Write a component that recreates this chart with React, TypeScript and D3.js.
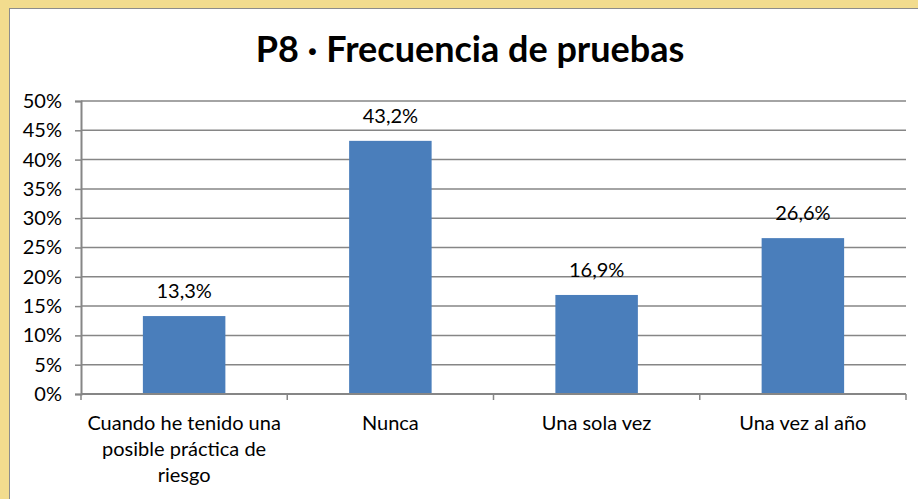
import { useEffect, useRef } from "react";
import { select, scaleBand, scaleLinear, axisLeft } from "d3";

const categories = [
  "Cuando he tenido una|posible práctica de|riesgo",
  "Nunca",
  "Una sola vez",
  "Una vez al año",
];
const values = [13.3, 43.2, 16.9, 26.6];
const valueLabels = ["13,3%", "43,2%", "16,9%", "26,6%"];
const yTicks = [0, 5, 10, 15, 20, 25, 30, 35, 40, 45, 50];
const title = "P8 · Frecuencia de pruebas";

const FONT = "Lato, 'Open Sans', sans-serif";

export default function App() {
  const ref = useRef<SVGSVGElement>(null);
  const width = 918;
  const height = 499;
  const margin = { top: 101, left: 81, right: 12, bottom: 105 };

  useEffect(() => {
    const svg = select(ref.current);
    svg.selectAll("*").remove();

    // frame
    svg.append("rect").attr("width", width).attr("height", height).attr("fill", "#f2dc8e");
    svg
      .append("rect")
      .attr("x", 9.5)
      .attr("y", 8.5)
      .attr("width", width)
      .attr("height", height)
      .attr("fill", "#fff")
      .attr("stroke", "#8c8c8c")
      .attr("stroke-width", 1);

    const x = scaleBand<number>()
      .domain(categories.map((_, i) => i))
      .range([margin.left, width - margin.right])
      .paddingInner(0.6)
      .paddingOuter(0.3);

    const y = scaleLinear()
      .domain([0, 50])
      .range([height - margin.bottom, margin.top]);

    // gridlines
    svg
      .append("g")
      .selectAll("line")
      .data(yTicks.filter((t) => t > 0))
      .join("line")
      .attr("x1", margin.left)
      .attr("x2", width - margin.right)
      .attr("y1", (d) => y(d))
      .attr("y2", (d) => y(d))
      .attr("stroke", "#868686")
      .attr("stroke-width", 1.5);

    // bars
    svg
      .append("g")
      .selectAll("rect")
      .data(values)
      .join("rect")
      .attr("x", (_, i) => x(i)!)
      .attr("y", (d) => y(d))
      .attr("width", x.bandwidth())
      .attr("height", (d) => y(0) - y(d))
      .attr("fill", "#4a7ebb");

    // value labels
    svg
      .append("g")
      .selectAll("text")
      .data(values)
      .join("text")
      .attr("x", (_, i) => x(i)! + x.bandwidth() / 2)
      .attr("y", (d) => y(d) - 18)
      .attr("text-anchor", "middle")
      .attr("font-family", FONT)
      .attr("font-size", 20)
      .attr("fill", "#000")
      .text((_, i) => valueLabels[i]);

    // y axis
    const yAxis = svg
      .append("g")
      .attr("transform", `translate(${margin.left},0)`)
      .call(
        axisLeft(y)
          .tickValues(yTicks)
          .tickSize(6)
          .tickPadding(13)
          .tickFormat((d) => `${d}%`)
      );
    yAxis.select(".domain").attr("stroke", "#868686").attr("stroke-width", 2);
    yAxis.selectAll(".tick line").attr("stroke", "#868686").attr("stroke-width", 1.5);
    yAxis
      .selectAll("text")
      .attr("font-family", FONT)
      .attr("font-size", 20)
      .attr("fill", "#000");

    // x axis
    const step = x.step();
    const bounds = categories.map((_, i) => margin.left + step * i).concat([width - margin.right]);
    const xg = svg.append("g");
    xg.append("line")
      .attr("x1", margin.left)
      .attr("x2", width - margin.right)
      .attr("y1", y(0))
      .attr("y2", y(0))
      .attr("stroke", "#868686")
      .attr("stroke-width", 2);
    xg.selectAll(".tk")
      .data(bounds)
      .join("line")
      .attr("class", "tk")
      .attr("x1", (d) => d)
      .attr("x2", (d) => d)
      .attr("y1", y(0))
      .attr("y2", y(0) + 6)
      .attr("stroke", "#868686")
      .attr("stroke-width", 1.5);

    const labels = xg
      .selectAll(".cat")
      .data(categories)
      .join("text")
      .attr("class", "cat")
      .attr("text-anchor", "middle")
      .attr("font-family", FONT)
      .attr("font-size", 20)
      .attr("fill", "#000");
    labels.each(function (d, i) {
      const t = select(this);
      d.split("|").forEach((line, j) => {
        t.append("tspan")
          .attr("x", x(i)! + x.bandwidth() / 2)
          .attr("y", y(0) + 36 + j * 26)
          .text(line);
      });
    });

    // title
    svg
      .append("text")
      .attr("x", 470)
      .attr("y", 62)
      .attr("text-anchor", "middle")
      .attr("font-family", FONT)
      .attr("font-weight", "bold")
      .attr("font-size", 36)
      .attr("fill", "#000")
      .text(title);
  }, []);

  return (
    <svg
      ref={ref}
      width={width}
      height={height}
      style={{ position: "absolute", left: 0, top: 0, display: "block" }}
    />
  );
}
